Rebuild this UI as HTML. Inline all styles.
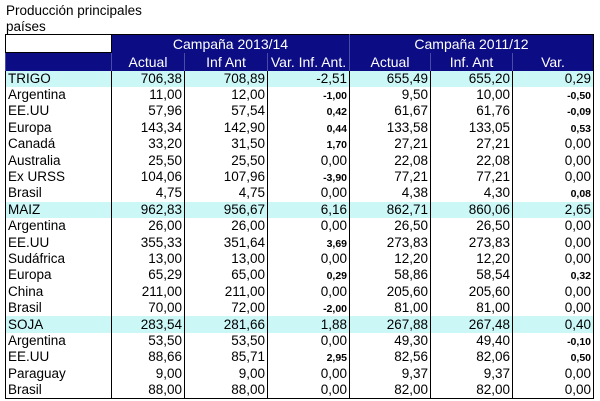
<!DOCTYPE html>
<html><head><meta charset="utf-8"><style>
body{margin:0;background:#fff;width:600px;height:401px;overflow:hidden;font-family:"Liberation Sans",Arial,sans-serif;}
.t{position:absolute;left:6px;font-size:13.5px;color:#000;}
table{position:absolute;left:5px;top:34px;border-collapse:collapse;table-layout:fixed;font-size:13.5px;border:1.5px solid #000;}
td{padding:0 2px;height:16.4px;line-height:14px;text-align:right;border-left:1px solid #000;white-space:nowrap;overflow:hidden;box-sizing:border-box;}
td:first-child{text-align:left;}
tr.h td{background:#0c0c84;color:#fff;text-align:center;border-left:1px solid #4a4aa8;height:18px;font-size:14px;}
tr.h td.e{background:#fff;border:1px solid #000;}
tr.c td{background:#ccf7f7;}
b{font-size:10.5px;line-height:10px;}
</style></head><body>
<div class="t" style="top:3px">Producción principales</div>
<div class="t" style="top:19px">países</div>
<table>
<colgroup><col style="width:106px"><col style="width:73px"><col style="width:83px"><col style="width:82px"><col style="width:81px"><col style="width:82px"><col style="width:81px"></colgroup>
<tr class="h"><td class="e"></td><td colspan="3">Campaña 2013/14</td><td colspan="3">Campaña 2011/12</td></tr>
<tr class="h"><td></td><td>Actual</td><td>Inf Ant</td><td>Var. Inf. Ant.</td><td>Actual</td><td>Inf. Ant</td><td>Var.</td></tr>
<tr class="c"><td>TRIGO</td><td>706,38</td><td>708,89</td><td>-2,51</td><td>655,49</td><td>655,20</td><td>0,29</td></tr>
<tr><td>Argentina</td><td>11,00</td><td>12,00</td><td><b>-1,00</b></td><td>9,50</td><td>10,00</td><td><b>-0,50</b></td></tr>
<tr><td>EE.UU</td><td>57,96</td><td>57,54</td><td><b>0,42</b></td><td>61,67</td><td>61,76</td><td><b>-0,09</b></td></tr>
<tr><td>Europa</td><td>143,34</td><td>142,90</td><td><b>0,44</b></td><td>133,58</td><td>133,05</td><td><b>0,53</b></td></tr>
<tr><td>Canadá</td><td>33,20</td><td>31,50</td><td><b>1,70</b></td><td>27,21</td><td>27,21</td><td>0,00</td></tr>
<tr><td>Australia</td><td>25,50</td><td>25,50</td><td>0,00</td><td>22,08</td><td>22,08</td><td>0,00</td></tr>
<tr><td>Ex URSS</td><td>104,06</td><td>107,96</td><td><b>-3,90</b></td><td>77,21</td><td>77,21</td><td>0,00</td></tr>
<tr><td>Brasil</td><td>4,75</td><td>4,75</td><td>0,00</td><td>4,38</td><td>4,30</td><td><b>0,08</b></td></tr>
<tr class="c"><td>MAIZ</td><td>962,83</td><td>956,67</td><td>6,16</td><td>862,71</td><td>860,06</td><td>2,65</td></tr>
<tr><td>Argentina</td><td>26,00</td><td>26,00</td><td>0,00</td><td>26,50</td><td>26,50</td><td>0,00</td></tr>
<tr><td>EE.UU</td><td>355,33</td><td>351,64</td><td><b>3,69</b></td><td>273,83</td><td>273,83</td><td>0,00</td></tr>
<tr><td>Sudáfrica</td><td>13,00</td><td>13,00</td><td>0,00</td><td>12,20</td><td>12,20</td><td>0,00</td></tr>
<tr><td>Europa</td><td>65,29</td><td>65,00</td><td><b>0,29</b></td><td>58,86</td><td>58,54</td><td><b>0,32</b></td></tr>
<tr><td>China</td><td>211,00</td><td>211,00</td><td>0,00</td><td>205,60</td><td>205,60</td><td>0,00</td></tr>
<tr><td>Brasil</td><td>70,00</td><td>72,00</td><td><b>-2,00</b></td><td>81,00</td><td>81,00</td><td>0,00</td></tr>
<tr class="c"><td>SOJA</td><td>283,54</td><td>281,66</td><td>1,88</td><td>267,88</td><td>267,48</td><td>0,40</td></tr>
<tr><td>Argentina</td><td>53,50</td><td>53,50</td><td>0,00</td><td>49,30</td><td>49,40</td><td><b>-0,10</b></td></tr>
<tr><td>EE.UU</td><td>88,66</td><td>85,71</td><td><b>2,95</b></td><td>82,56</td><td>82,06</td><td><b>0,50</b></td></tr>
<tr><td>Paraguay</td><td>9,00</td><td>9,00</td><td>0,00</td><td>9,37</td><td>9,37</td><td>0,00</td></tr>
<tr><td>Brasil</td><td>88,00</td><td>88,00</td><td>0,00</td><td>82,00</td><td>82,00</td><td>0,00</td></tr>
</table>
</body></html>
